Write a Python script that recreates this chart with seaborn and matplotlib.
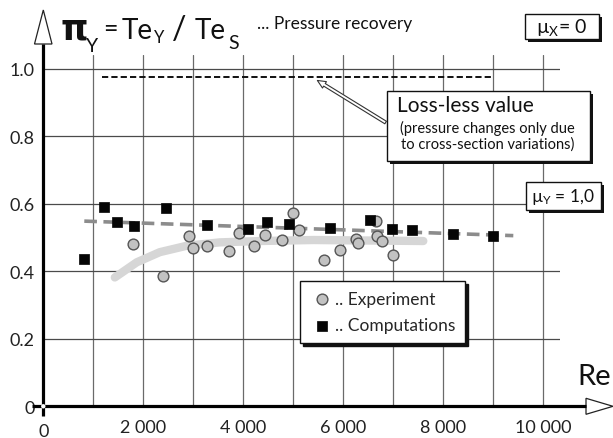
import matplotlib
matplotlib.use("Agg")
import numpy as np
import pandas as pd
import seaborn as sns
import matplotlib.pyplot as plt
from matplotlib.patches import Rectangle, Polygon, Circle
from matplotlib.lines import Line2D
from matplotlib.transforms import Affine2D

# ---------------- data ----------------
exp_re = [1800, 2387, 2920, 2987, 3267, 3720, 3920, 4213, 4436, 4772,
          4998, 5108, 5608, 5936, 6248, 6295, 6662, 6678, 6764, 6998]
exp_pi = [0.481, 0.385, 0.506, 0.468, 0.476, 0.459, 0.514, 0.476, 0.508, 0.494,
          0.572, 0.524, 0.435, 0.462, 0.497, 0.485, 0.548, 0.504, 0.490, 0.449]

comp_re = [814, 1220, 1480, 1814, 2454, 3267, 4100, 4475, 4905, 5725,
           6530, 6975, 7365, 8185, 8990]
comp_pi = [0.437, 0.590, 0.545, 0.535, 0.588, 0.538, 0.526, 0.546, 0.539, 0.528,
           0.553, 0.526, 0.524, 0.511, 0.504]

comp_trend_re = [820, 9400]
comp_trend_pi = [0.549, 0.506]

exp_band_re = [1430, 1870, 2330, 2870, 3530, 4330, 5400, 7600]
exp_band_pi = [0.382, 0.427, 0.457, 0.476, 0.486, 0.490, 0.493, 0.490]

lossless_re = [1170, 9000]
lossless_pi = [0.975, 0.975]

xtick_vals = [2000, 4000, 6000, 8000, 10000]
xtick_labels = ["2 000", "4 000", "6 000", "8 000", "10 000"]
xgrid_vals = [1000, 2000, 3000, 4000, 5000, 6000, 7000, 8000, 9000, 10000]
ytick_vals = [0, 0.2, 0.4, 0.6, 0.8, 1.0]
ytick_labels = ["0", "0.2", "0.4", "0.6", "0.8", "1.0"]

# ---------------- style ----------------
sns.set_theme(style="white")
plt.rcParams['font.family'] = ['Lato', 'DejaVu Sans']
plt.rcParams['mathtext.fontset'] = 'custom'
plt.rcParams['mathtext.rm'] = 'Lato'
plt.rcParams['mathtext.it'] = 'Lato:italic'
plt.rcParams['mathtext.bf'] = 'Lato:bold'

W, H = 613, 439
fig = plt.figure(figsize=(W / 100, H / 100), dpi=100)
fig.patch.set_facecolor('white')
pix = Affine2D().scale(1 / W, -1 / H).translate(0, 1) + fig.transFigure

X0, Y0 = 43.3, 407.3      # origin in pixels
XR, YT = 560.0, 56.0      # axes right / top in pixels
ax = fig.add_axes([X0 / W, (H - Y0) / H, (XR - X0) / W, (Y0 - YT) / H])
ax.set_xlim(0, (XR - X0) * 20)
ax.set_ylim(0, (Y0 - YT) / 337.3)
for s in ax.spines.values():
    s.set_visible(False)

# grid
ax.set_xticks(xgrid_vals, minor=True)
ax.set_xticks(xtick_vals)
ax.set_xticklabels(xtick_labels)
ax.set_yticks(ytick_vals)
ax.set_yticklabels(ytick_labels)
ax.tick_params(axis='both', which='both', length=0, labelsize=13, colors='#222')
ax.tick_params(axis='x', pad=9)
ax.tick_params(axis='y', pad=6)
ax.xaxis.grid(True, which='both', color='#6a6a6a', lw=0.9)
ax.yaxis.grid(True, which='major', color='#4a4a4a', lw=0.9)
ax.set_axisbelow(True)

# experiment band (light grey thick curve)
sns.lineplot(x=exp_band_re, y=exp_band_pi, ax=ax, color='#d6d6d6', lw=6,
             sort=False, estimator=None, legend=False, zorder=2,
             solid_capstyle='round')
# computation trend (grey dashed)
sns.lineplot(x=comp_trend_re, y=comp_trend_pi, ax=ax, color='#8c8c8c', lw=2.6,
             dashes=False, sort=False, estimator=None, legend=False, zorder=3)
ax.lines[-1].set_dashes([3.5, 1.8])
# loss-less value (black dashed)
sns.lineplot(x=lossless_re, y=lossless_pi, ax=ax, color='#111', lw=1.4,
             sort=False, estimator=None, legend=False, zorder=3)
ax.lines[-1].set_dashes([3.2, 1.6])

sns.scatterplot(x=exp_re, y=exp_pi, ax=ax, marker='o', s=60, color='#c2c2c2',
                edgecolor='#555', linewidth=1.0, label='.. Experiment', zorder=5)
sns.scatterplot(x=comp_re, y=comp_pi, ax=ax, marker='s', s=42, color='#050505',
                edgecolor='#050505', linewidth=0.5, label='.. Computations', zorder=6)

leg = ax.legend(loc='upper left', bbox_to_anchor=(0.497, 0.356), frameon=True,
                fancybox=False, edgecolor='#111', fontsize=12.5,
                handletextpad=0.05, borderpad=0.55, labelspacing=0.6,
                handlelength=1.4, borderaxespad=0,
                shadow={'color': '#111', 'alpha': 1.0})
leg.get_frame().set_linewidth(1.0)

# arrow to loss-less line
ax.annotate('', xy=((315 - X0) * 20, (Y0 - 80) / 337.3),
            xytext=((388 - X0) * 20, (Y0 - 125) / 337.3),
            arrowprops=dict(arrowstyle='simple,head_length=0.5,head_width=0.45,tail_width=0.18',
                            fc='white', ec='#333', lw=0.8), zorder=4)

# ---------------- axes arrows ----------------
fig.add_artist(Line2D([X0, X0], [417, 45], transform=pix, color='#000', lw=2.3,
                      solid_capstyle='butt'))
fig.add_artist(Polygon([[34.5, 45], [52, 45], [X0, 11]], closed=True, transform=pix,
                       fc='white', ec='#222', lw=0.9))
fig.add_artist(Line2D([31.5, 586], [Y0, Y0], transform=pix, color='#000', lw=2.3,
                      solid_capstyle='butt'))
fig.add_artist(Polygon([[586, Y0 - 8], [586, Y0 + 8], [613, Y0]], closed=True,
                       transform=pix, fc='white', ec='#222', lw=0.9))
fig.add_artist(Circle((X0, Y0), 2.2, transform=pix, fc='white', ec='none', zorder=5))

fig.text(X0 / W, 1 - 432 / H, "0", ha='center', va='center', fontsize=13, color='#222')
fig.text(577 / W, 1 - 377 / H, "Re", ha='left', va='center', fontsize=21, color='#111')

# ---------------- title ----------------
def ptext(x, y, s, **kw):
    kw.setdefault('color', '#111')
    kw.setdefault('ha', 'left')
    kw.setdefault('va', 'baseline')
    fig.text(x / W, 1 - y / H, s, **kw)


ptext(61, 39, "π", fontsize=25, fontweight='bold', family=['DejaVu Sans'])
ptext(86, 52, "Y", fontsize=14)
ptext(103, 37, "=", fontsize=18)
ptext(122, 39, "Te", fontsize=20)
ptext(154, 43, "Y", fontsize=12)
ptext(172, 39, "/", fontsize=23)
ptext(195, 39, "Te", fontsize=20)
ptext(228, 49, "S", fontsize=14)
ptext(257, 29, "... Pressure recovery", fontsize=12.5)


def shadow_box(x0, y0, x1, y1):
    fig.add_artist(Rectangle((x0 + 3, y1 + 3), x1 - x0, -(y1 - y0), transform=pix,
                             fc='#111', ec='none'))
    fig.add_artist(Rectangle((x0, y1), x1 - x0, -(y1 - y0), transform=pix,
                             fc='white', ec='#111', lw=1.0))


shadow_box(525, 15, 599, 40)
fig.text(562 / W, 1 - 28 / H, r"µ$_\mathrm{X}$= 0", ha='center', va='center',
         fontsize=14, color='#111')

shadow_box(526, 183, 601, 211)
fig.text(563 / W, 1 - 197 / H, r"µ$_\mathrm{Y}$ = 1,0", ha='center', va='center',
         fontsize=12.5, color='#111')

shadow_box(387, 92, 590, 162)
fig.text(397 / W, 1 - 106 / H, "Loss-less value", ha='left', va='center',
         fontsize=15, color='#111')
fig.text(487 / W, 1 - 128 / H, "(pressure changes only due", ha='center', va='center',
         fontsize=10.5, color='#111')
fig.text(488 / W, 1 - 145 / H, "to cross-section variations)", ha='center', va='center',
         fontsize=10.5, color='#111')

fig.savefig("out.png", dpi=100, facecolor='white')
